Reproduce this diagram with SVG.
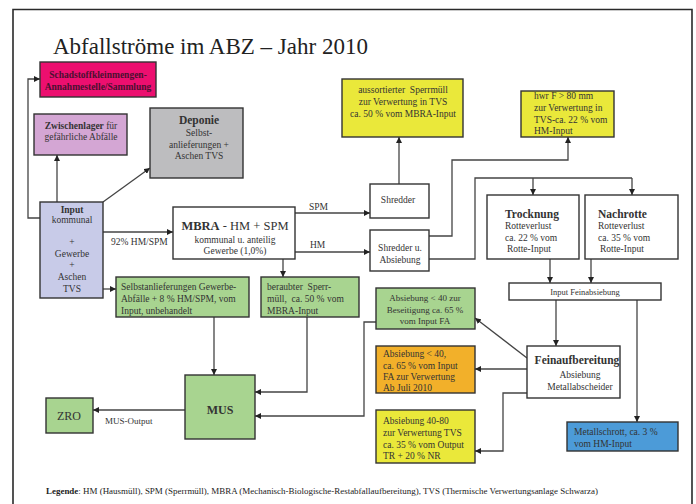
<svg xmlns="http://www.w3.org/2000/svg" width="696" height="504" viewBox="0 0 696 504">
<defs>
<marker id="ah" viewBox="0 0 10 10" refX="10" refY="5" markerWidth="6" markerHeight="6" markerUnits="userSpaceOnUse" orient="auto"><path d="M0,0 L10,5 L0,10 z" fill="#222"/></marker>
<style>
text{font-family:"Liberation Serif","Times New Roman",serif;fill:#333;font-size:9.5px}
.b{font-weight:bold}
.c{text-anchor:middle}
.box{stroke:#333;stroke-width:1.4}
.ln{fill:none;stroke:#444;stroke-width:1.3}
.ar{fill:none;stroke:#444;stroke-width:1.3;marker-end:url(#ah)}
</style>
</defs>
<rect width="696" height="504" fill="#fff"/>
<path d="M13,504 V9.5 H692 V504" fill="none" stroke="#2a2a2a" stroke-width="1.6"/>
<text x="53" y="54" style="font-size:23px;fill:#222">Abfallströme im ABZ – Jahr 2010</text>

<g id="connectors">
<path class="ar" d="M41,218 H28 V79 H40"/>
<path class="ar" d="M57,202 V155"/>
<path class="ar" d="M103,202 L150,168"/>
<path class="ar" d="M103,232 H173"/>
<path class="ar" d="M103,289 H116"/>
<path class="ar" d="M283,259 V277"/>
<path class="ar" d="M295,213 H370"/>
<path class="ar" d="M295,252 H370"/>
<path class="ar" d="M399,184 V137"/>
<path class="ar" d="M429,236 H452 V160 H568 V137"/>
<path class="ln" d="M429,259 H475 V178 H632"/>
<path class="ar" d="M533,178 V195"/>
<path class="ar" d="M632,178 V195"/>
<path class="ar" d="M550,259 V283"/>
<path class="ar" d="M591,259 V283"/>
<path class="ar" d="M556,300 V346"/>
<path class="ar" d="M637,300 V422"/>
<path class="ar" d="M527,358 L475,318"/>
<path class="ar" d="M527,369 H475"/>
<path class="ar" d="M527,393 H503 V451 H475"/>
<path class="ar" d="M376,322 H364 V416 H255"/>
<path class="ar" d="M214,317 V375"/>
<path class="ar" d="M307,317 V392 H255"/>
<path class="ar" d="M185,410 H93"/>
<text x="111" y="245">92% HM/SPM</text>
<text x="309" y="210">SPM</text>
<text x="310" y="248">HM</text>
<text x="105" y="424" style="font-size:9px">MUS-Output</text>
</g>

<g id="schadstoff">
<rect class="box" x="40" y="62" width="116" height="35" fill="#EC0F6F"/>
<text class="b c" x="98" y="78" style="fill:#4a1030">Schadstoffkleinmengen-</text>
<text class="b c" x="98" y="90" style="fill:#4a1030">Annahmestelle/Sammlung</text>
</g>

<g id="zwischenlager">
<rect class="box" x="34" y="114" width="93" height="41" fill="#D4A6D4"/>
<text class="c" x="81" y="129"><tspan class="b">Zwischenlager</tspan> für</text>
<text class="c" x="81" y="140">gefährliche Abfälle</text>
</g>

<g id="deponie">
<rect class="box" x="150" y="108" width="93" height="70" fill="#BDBDBF"/>
<text class="b c" x="199" y="124" style="font-size:11.5px">Deponie</text>
<text class="c" x="199" y="136">Selbst-</text>
<text class="c" x="199" y="148">anlieferungen +</text>
<text class="c" x="199" y="159">Aschen TVS</text>
</g>

<g id="input">
<rect class="box" x="40" y="202" width="63" height="96" fill="#C8CBE8"/>
<text class="b c" x="72" y="213">Input</text>
<text class="c" x="72" y="223">kommunal</text>
<text class="c" x="72" y="245">+</text>
<text class="c" x="72" y="257">Gewerbe</text>
<text class="c" x="72" y="268">+</text>
<text class="c" x="72" y="280">Aschen</text>
<text class="c" x="72" y="292">TVS</text>
</g>

<g id="mbra">
<rect class="box" x="173" y="207" width="122" height="52" fill="#fff"/>
<text class="c" x="235" y="230" style="font-size:12.5px"><tspan class="b">MBRA</tspan> - HM + SPM</text>
<text class="c" x="235" y="243">kommunal u. anteilig</text>
<text class="c" x="235" y="254">Gewerbe (1,0%)</text>
</g>

<g id="selbstanlieferungen">
<rect class="box" x="116" y="277" width="133" height="40" fill="#A8D490"/>
<text x="121" y="290">Selbstanlieferungen Gewerbe-</text>
<text x="121" y="302">Abfälle + 8 % HM/SPM, vom</text>
<text x="121" y="314">Input, unbehandelt</text>
</g>

<g id="beraubter">
<rect class="box" x="261" y="277" width="98" height="40" fill="#A8D490"/>
<text x="267" y="290" xml:space="preserve">beraubter  Sperr-</text>
<text x="267" y="302" xml:space="preserve">müll,  ca. 50 % vom</text>
<text x="267" y="314">MBRA-Input</text>
</g>

<g id="shredder">
<rect class="box" x="370" y="184" width="59" height="34" fill="#fff"/>
<text class="c" x="398" y="203">Shredder</text>
</g>

<g id="shredder-absiebung">
<rect class="box" x="370" y="230" width="59" height="41" fill="#fff"/>
<text class="c" x="400" y="251">Shredder u.</text>
<text class="c" x="400" y="263">Absiebung</text>
</g>

<g id="aussortierter">
<rect class="box" x="342" y="79" width="121" height="58" fill="#EAE83A"/>
<text class="c" x="403" y="93" xml:space="preserve">aussortierter  Sperrmüll</text>
<text class="c" x="403" y="105">zur Verwertung in TVS</text>
<text class="c" x="403" y="117">ca. 50 % vom MBRA-Input</text>
</g>

<g id="hwr">
<rect class="box" x="521" y="91" width="93" height="46" fill="#EAE83A"/>
<text x="534" y="99">hwr F &gt; 80 mm</text>
<text x="534" y="111">zur Verwertung in</text>
<text x="534" y="123">TVS-ca. 22 % vom</text>
<text x="534" y="134">HM-Input</text>
</g>

<g id="trocknung">
<rect class="box" x="487" y="195" width="92" height="64" fill="#fff"/>
<text class="b" x="505" y="218" style="font-size:11.5px">Trocknung</text>
<text x="505" y="229">Rotteverlust</text>
<text x="505" y="241">ca. 22 % vom</text>
<text x="507" y="252">Rotte-Input</text>
</g>

<g id="nachrotte">
<rect class="box" x="585" y="195" width="93" height="64" fill="#fff"/>
<text class="b" x="598" y="218" style="font-size:11.5px">Nachrotte</text>
<text x="598" y="229">Rotteverlust</text>
<text x="598" y="241">ca. 35 % vom</text>
<text x="600" y="252">Rotte-Input</text>
</g>

<g id="input-feinabsiebung">
<rect class="box" x="509" y="283" width="152" height="17" fill="#fff"/>
<text class="c" x="585" y="295" style="font-size:8.5px">Input Feinabsiebung</text>
</g>

<g id="feinaufbereitung">
<rect class="box" x="527" y="346" width="93" height="52" fill="#fff"/>
<text class="b c" x="577" y="364" style="font-size:11.5px">Feinaufbereitung</text>
<text class="c" x="580" y="378">Absiebung</text>
<text class="c" x="580" y="390">Metallabscheider</text>
</g>

<g id="absiebung-beseitigung">
<rect class="box" x="376" y="288" width="99" height="41" fill="#A8D490"/>
<text class="c" x="425" y="301" style="font-size:9px">Absiebung &lt; 40 zur</text>
<text class="c" x="425" y="313" style="font-size:9px">Beseitigung ca. 65 %</text>
<text class="c" x="425" y="324" style="font-size:9px">vom Input FA</text>
</g>

<g id="absiebung-verwertung">
<rect class="box" x="376" y="346" width="99" height="47" fill="#F2B02A"/>
<text x="383" y="357">Absiebung &lt; 40,</text>
<text x="383" y="369">ca. 65 % vom Input</text>
<text x="383" y="380">FA zur Verwertung</text>
<text x="383" y="391">Ab Juli 2010</text>
</g>

<g id="absiebung-40-80">
<rect class="box" x="376" y="410" width="99" height="53" fill="#EAE83A"/>
<text x="383" y="424">Absiebung 40-80</text>
<text x="383" y="436">zur Verwertung TVS</text>
<text x="383" y="448">ca. 35 % vom Output</text>
<text x="383" y="459">TR + 20 % NR</text>
</g>

<g id="metallschrott">
<rect class="box" x="567" y="422" width="111" height="29" fill="#4C9BD8"/>
<text x="574" y="435">Metallschrott, ca. 3 %</text>
<text x="574" y="447">vom HM-Input</text>
</g>

<g id="mus">
<rect class="box" x="185" y="375" width="70" height="64" fill="#A8D490"/>
<text class="b c" x="220" y="414" style="font-size:12px">MUS</text>
</g>

<g id="zro">
<rect class="box" x="46" y="398" width="47" height="35" fill="#A8D490"/>
<text class="c" x="69" y="420" style="font-size:12px">ZRO</text>
</g>

<text x="46" y="494" style="font-size:8.8px;fill:#222" textLength="552" lengthAdjust="spacingAndGlyphs"><tspan class="b">Legende</tspan>:  HM (Hausmüll), SPM (Sperrmüll), MBRA (Mechanisch-Biologische-Restabfallaufbereitung), TVS (Thermische Verwertungsanlage Schwarza)</text>
</svg>
